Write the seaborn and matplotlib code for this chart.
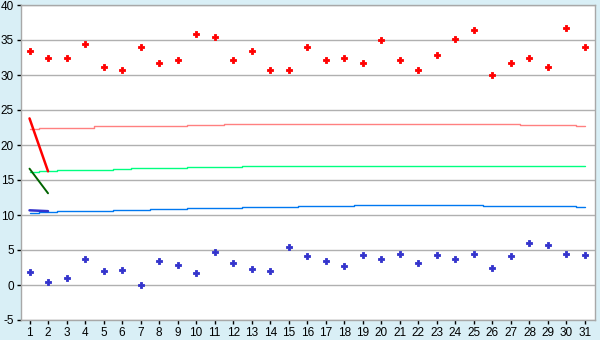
import matplotlib
matplotlib.use("Agg")
import matplotlib.pyplot as plt
import seaborn as sns
import pandas as pd
import numpy as np

days = list(range(1, 32))
upper_pts = [33.4, 32.5, 32.4, 34.4, 31.1, 30.7, 34.0, 31.7, 32.2, 35.8,
             35.4, 32.2, 33.4, 30.7, 30.7, 34.0, 32.2, 32.4, 31.7, 35.0,
             32.2, 30.7, 32.8, 35.2, 36.4, 30.0, 31.7, 32.4, 31.1, 36.7, 34.0]
lower_pts = [1.81, 0.38, 0.95, 3.67, 1.95, 2.1, 0.0, 3.38, 2.81, 1.67,
             4.67, 3.1, 2.24, 1.95, 5.38, 4.1, 3.38, 2.67, 4.24, 3.67,
             4.38, 3.1, 4.24, 3.67, 4.38, 2.38, 4.1, 5.95, 5.67, 4.38, 4.24]
upper_line = [22.24, 22.38, 22.38, 22.38, 22.67, 22.76, 22.76, 22.76, 22.76, 22.86,
              22.86, 22.95, 22.95, 22.95, 22.95, 22.95, 22.95, 22.95, 22.95, 22.95,
              22.95, 22.95, 22.95, 22.95, 22.95, 22.95, 22.95, 22.8, 22.8, 22.8, 22.67]
mid_line = [16.1, 16.24, 16.39, 16.39, 16.39, 16.53, 16.67, 16.67, 16.67, 16.81,
            16.81, 16.81, 16.96, 16.96, 16.96, 16.96, 16.96, 16.96, 16.96, 16.96,
            16.96, 16.96, 16.96, 16.96, 16.96, 16.96, 16.96, 16.96, 16.96, 16.96, 16.96]
lower_line = [10.24, 10.38, 10.53, 10.53, 10.53, 10.67, 10.67, 10.81, 10.81, 10.96,
              10.96, 10.96, 11.1, 11.1, 11.1, 11.24, 11.24, 11.24, 11.38, 11.38,
              11.38, 11.38, 11.38, 11.38, 11.38, 11.24, 11.24, 11.24, 11.24, 11.24, 11.1]
red_seg_x = [1, 2]
red_seg_y = [23.8, 16.24]
green_seg_x = [1, 2]
green_seg_y = [16.62, 13.1]
blue_seg_x = [1, 2]
blue_seg_y = [10.67, 10.55]

yticks = [-5, 0, 5, 10, 15, 20, 25, 30, 35, 40]

bg = "#D9EFF6"
sns.set_theme(style="white")
plt.rcParams["font.family"] = ["Liberation Sans", "DejaVu Sans"]
plt.rcParams["axes.unicode_minus"] = False

fig = plt.figure(figsize=(6, 3.4), dpi=100, facecolor=bg)
ax = fig.add_axes([21/600, 1-320/340, 574/600, 315/340])
ax.set_facecolor("white")

df = pd.DataFrame({"day": days, "up": upper_pts, "lo": lower_pts,
                   "ul": upper_line, "ml": mid_line, "ll": lower_line})

sns.lineplot(data=df, x="day", y="ul", ax=ax, color="#FF8080", lw=1.0, drawstyle="steps-mid")
sns.lineplot(data=df, x="day", y="ml", ax=ax, color="#00FF80", lw=1.0, drawstyle="steps-mid")
sns.lineplot(data=df, x="day", y="ll", ax=ax, color="#0078F0", lw=1.0, drawstyle="steps-mid")
sns.lineplot(x=red_seg_x, y=red_seg_y, ax=ax, color="#FF0000", lw=1.8)
sns.lineplot(x=green_seg_x, y=green_seg_y, ax=ax, color="#006400", lw=1.4)
sns.lineplot(x=blue_seg_x, y=blue_seg_y, ax=ax, color="#3333CC", lw=1.8)
sns.scatterplot(data=df, x="day", y="up", ax=ax, color="#FF0000", marker="P", s=16,
                linewidth=0.6, edgecolor="#FF0000", zorder=5)
sns.scatterplot(data=df, x="day", y="lo", ax=ax, color="#3333CC", marker="P", s=16,
                linewidth=0.6, edgecolor="#3333CC", zorder=5)

ax.set_xlim(0.54, 31.54)
ax.set_ylim(-5, 40)
ax.set_xticks(days)
ax.set_xticklabels([str(d) for d in days])
ax.set_yticks(yticks)
ax.set_yticklabels([str(t) for t in yticks])
ax.set_xlabel("")
ax.set_ylabel("")
ax.yaxis.grid(True, color="#B0B0B0", lw=1)
ax.xaxis.grid(False)
ax.set_axisbelow(True)
for s in ax.spines.values():
    s.set_color("#A8A8A8")
    s.set_linewidth(1)
ax.tick_params(axis="both", which="major", direction="out", length=3, width=1,
               color="black", labelsize=8.5, pad=2, labelcolor="black",
               bottom=True, left=True)

fig.savefig("out.png", dpi=100, facecolor=bg)
